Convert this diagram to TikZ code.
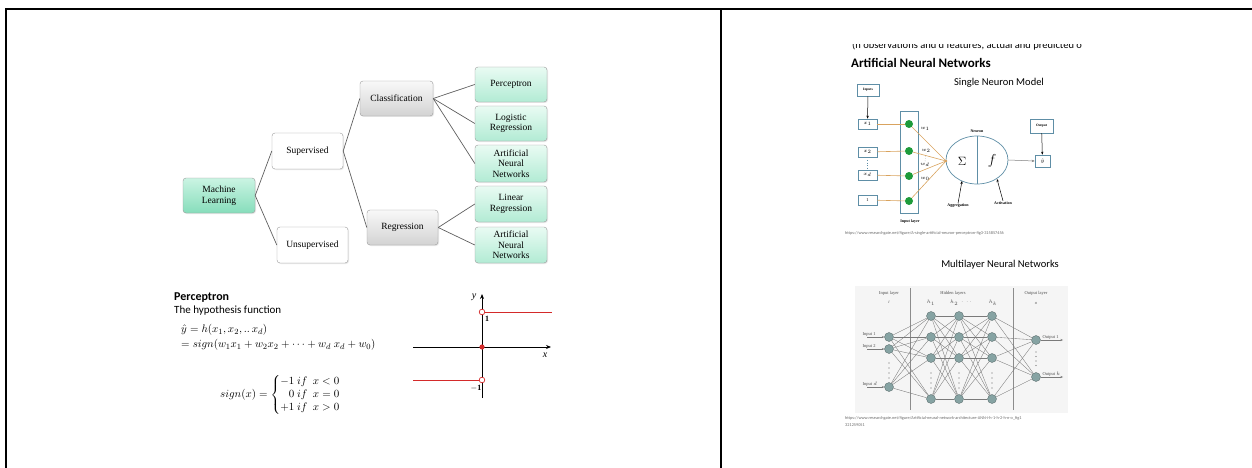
\documentclass[tikz,border=0pt]{standalone}
\usepackage{fontspec}
\usepackage{amsmath}
\setmainfont{Liberation Serif}
\newfontfamily\calib{Carlito}
\usetikzlibrary{arrows.meta,shapes.geometric,shadows}
\definecolor{gtop}{HTML}{E9FBF3}
\definecolor{gbot}{HTML}{B2EBD4}
\definecolor{mltop}{HTML}{CBF4E3}
\definecolor{mlbot}{HTML}{86DDBB}
\definecolor{ytop}{HTML}{F8F8F8}
\definecolor{ybot}{HTML}{D3D3D3}
\definecolor{bord}{HTML}{9A9A9A}
\definecolor{wire}{HTML}{5F5F5F}
\definecolor{nblue}{HTML}{5E8EA6}
\definecolor{ngreen}{HTML}{1E9B3A}
\definecolor{norange}{HTML}{D9A35E}
\definecolor{mlnode}{HTML}{86A3A3}
\definecolor{mlline}{HTML}{7A7A7A}
\definecolor{urlgray}{HTML}{6A6A6A}
\definecolor{sigred}{HTML}{D42A2A}
\tikzset{
  treebox/.style={draw=bord, rounded corners=3pt, minimum width=72pt, minimum height=35pt,
    align=center, inner sep=1pt, font=\fontsize{9.5}{10.5}\selectfont,
    drop shadow={opacity=0.18, shadow xshift=1pt, shadow yshift=-1pt}},
  leafbox/.style={treebox, top color=gtop, bottom color=gbot},
  mlbox/.style={treebox, top color=mltop, bottom color=mlbot},
  midbox/.style={treebox, top color=ytop, bottom color=ybot},
  plainbox/.style={treebox, fill=white},
  conn/.style={draw=wire, line width=0.7pt},
  tinylab/.style={font=\fontsize{4}{4.5}\selectfont\bfseries, inner sep=0.5pt},
  inbox/.style={draw=nblue, line width=0.6pt, fill=white, minimum width=19pt, minimum height=10pt, inner sep=0pt, font=\fontsize{4.5}{5}\selectfont},
  gdot/.style={circle, fill=ngreen, minimum size=8pt, inner sep=0pt},
  owire/.style={draw=norange, line width=0.6pt},
  sarrow/.style={-{Stealth[length=3pt,width=2.4pt]}, line width=0.5pt},
  mln/.style={circle, draw=mlnode!60!black, fill=mlnode, minimum size=9pt, inner sep=0pt, line width=0.3pt},
  mle/.style={draw=mlline, line width=0.35pt},
  mltxt/.style={font=\fontsize{4.5}{5}\selectfont, text=black!70, inner sep=0.5pt},
  urltxt/.style={font=\calib\fontsize{4.3}{5}\selectfont, text=urlgray, inner sep=0pt, anchor=west},
}
\begin{document}
\begin{tikzpicture}[x=1pt,y=-1pt]
\useasboundingbox (0,0) rectangle (1252,468);
% table frame
\draw[line width=1.6pt] (6,468) -- (6,9) -- (1252,9);
\draw[line width=1.6pt] (721,9) -- (721,468);

% ---------- tree ----------
\node[mlbox] (ml) at (219,195.5) {Machine\\Learning};
\node[plainbox, minimum width=71pt, minimum height=36pt] (sup) at (307.5,151) {Supervised};
\node[plainbox, minimum width=71pt, minimum height=36pt] (uns) at (312.5,245) {Unsupervised};
\node[midbox, minimum width=73pt] (cls) at (396.5,98.5) {Classification};
\node[midbox, minimum width=71pt] (reg) at (402.5,227.5) {Regression};
\node[leafbox] (per) at (511,84.5) {Perceptron};
\node[leafbox] (log) at (511,123.5) {Logistic\\Regression};
\node[leafbox, minimum height=37pt] (ann1) at (511,163.5) {Artificial\\Neural\\Networks};
\node[leafbox, minimum height=36pt] (lin) at (511,204) {Linear\\Regression};
\node[leafbox, minimum height=36pt] (ann2) at (511,245) {Artificial\\Neural\\Networks};
\draw[conn] (ml.east) -- (sup.west);
\draw[conn] (ml.east) -- (uns.west);
\draw[conn] (sup.east) -- (cls.west);
\draw[conn] (sup.east) -- (reg.west);
\draw[conn] (cls.east) -- (per.west);
\draw[conn] (cls.east) -- (log.west);
\draw[conn] (cls.east) -- (ann1.west);
\draw[conn] (reg.east) -- (lin.west);
\draw[conn] (reg.east) -- (ann2.west);

% ---------- perceptron text ----------
\node[anchor=west, inner sep=0pt, font=\calib\bfseries\fontsize{12}{14}\selectfont] (ptitle) at (174,297.5) {Perceptron};
\node[anchor=west, inner sep=0pt, font=\calib\fontsize{11}{13}\selectfont] (phyp) at (174,311) {The hypothesis function};
\node[anchor=west, inner sep=0pt, font=\fontsize{11}{13}\selectfont] (peq1) at (181,330) {$\hat{y} = h(x_1, x_2, ..\, x_d)$};
\node[anchor=west, inner sep=0pt, font=\fontsize{11}{13}\selectfont] (peq2) at (181,345) {$= sign(w_1x_1 + w_2x_2 + \cdots + w_d\;x_d + w_0)$};
\node[anchor=west, inner sep=0pt, font=\fontsize{11}{13}\selectfont] (pcases) at (220,395)
  {$sign(x) = \left\{\begin{array}{@{}r@{\ }l@{}} -1 & if\ \ x<0\\ 0 & if\ \ x=0\\ +1 & if\ \ x>0\end{array}\right.$};

% ---------- sign plot ----------
\coordinate (xa0) at (413,347); \coordinate (xa1) at (551,347);
\coordinate (ya0) at (482,398); \coordinate (ya1) at (482,294);
\draw[line width=0.8pt, -{Stealth[length=5pt,width=4pt]}] (xa0) -- (xa1);
\draw[line width=0.8pt, -{Stealth[length=5pt,width=4pt]}] (ya0) -- (ya1);
\draw[sigred, line width=0.9pt] (485,312) -- (552,312);
\draw[sigred, line width=0.9pt] (413,380) -- (479,380);
\draw[sigred, fill=white, line width=0.7pt] (482,312) circle (2.8);
\draw[sigred, fill=white, line width=0.7pt] (482,380) circle (2.8);
\fill[sigred] (482,347) circle (2.6);
\node[font=\itshape\fontsize{10}{12}\selectfont, inner sep=0pt] (ylab) at (474,297) {y};
\node[font=\itshape\fontsize{10}{12}\selectfont, inner sep=0pt] (xlab) at (545,355) {x};
\node[font=\bfseries\fontsize{8}{10}\selectfont, inner sep=0pt] (one) at (487,319) {1};
\node[font=\bfseries\fontsize{8}{10}\selectfont, inner sep=0pt] (mone) at (476,388) {$-$1};

% ---------- right panel texts ----------
\begin{scope}
\clip (840,44.5) rectangle (1126,60);
\node[anchor=base west, inner sep=0pt, font=\calib\fontsize{10.5}{12}\selectfont] (cut) at (852,48.5) {(n observations and d features, actual and predicted o};
\end{scope}
\node[anchor=west, inner sep=0pt, font=\calib\bfseries\fontsize{13}{15}\selectfont] (annt) at (851,63) {Artificial Neural Networks};
\node[inner sep=0pt, font=\calib\fontsize{10.5}{12}\selectfont] (snm) at (999,83) {Single Neuron Model};

% ---------- single neuron ----------
\node[inbox, minimum width=22pt, minimum height=12pt, font=\fontsize{3.5}{4}\selectfont\bfseries] (inputs) at (868,90) {Inputs};
\node[inbox] (x1) at (867.5,124) {$x_1$};
\node[inbox] (x2) at (867.5,152) {$x_2$};
\node[inbox] (xd) at (867.5,175) {$x_d$};
\node[inbox] (x0) at (867.5,200) {1};
\draw[sarrow] (inputs) -- (x1);
\draw[nblue, dotted, line width=0.6pt] (x2.south) -- (xd.north);
\node[draw=nblue, line width=0.7pt, minimum width=18pt, minimum height=102pt, inner sep=0pt] (layer) at (909,162) {};
\node[gdot] (n1) at (909,124) {};
\node[gdot] (n2) at (909,151) {};
\node[gdot] (n3) at (909,176) {};
\node[gdot] (n4) at (909,201) {};
\node[ellipse, draw=nblue, line width=0.7pt, minimum width=62pt, minimum height=48pt, inner sep=0pt] (neuron) at (977,160) {};
\draw[nblue, line width=0.7pt] (neuron.north) -- (neuron.south);
\coordinate (agg) at (946,161);
\draw[owire] (x1) -- (n1); \draw[owire] (x2) -- (n2); \draw[owire] (xd) -- (n3); \draw[owire] (x0) -- (n4);
\draw[owire] (n1) -- (agg); \draw[owire] (n2) -- (agg); \draw[owire] (n3) -- (agg); \draw[owire] (n4) -- (agg);
\fill[norange] (agg) circle (1.3);
\node[tinylab, font=\fontsize{4}{4.5}\selectfont] (w1) at (925,129) {$w_1$};
\node[tinylab, font=\fontsize{4}{4.5}\selectfont] (w2) at (926,151) {$w_2$};
\node[tinylab, font=\fontsize{4}{4.5}\selectfont] (wd) at (925,165) {$w_d$};
\node[tinylab, font=\fontsize{4}{4.5}\selectfont] (w0) at (925,179) {$w_0$};
\draw[black!60, dotted, line width=0.4pt] (w2.south) -- (wd.north);
\node[inner sep=0pt, font=\fontsize{13}{14}\selectfont] (sig) at (962,161) {$\Sigma$};
\node[inner sep=0pt, font=\fontsize{14}{15}\selectfont] (fact) at (992,161) {$f$};
\node[tinylab] (neulab) at (977,131) {Neuron};
\node[inbox, minimum width=15pt, minimum height=12pt] (yhat) at (1042.5,161) {$\hat{y}$};
\node[inbox, minimum width=23pt, minimum height=14pt, font=\fontsize{3.5}{4}\selectfont\bfseries] (outb) at (1041.5,126) {Output};
\draw[sarrow, draw=black!50] (neuron.east) -- (yhat.west);
\draw[sarrow] (outb) -- (yhat);
\node[tinylab] (agglab) at (958,206) {Aggregation};
\node[tinylab] (actlab) at (1003,203) {Activation};
\draw[sarrow] (agglab.north) -- (962,181);
\draw[sarrow] (actlab.north) -- (997,179);
\node[tinylab] (inl) at (910,222) {Input layer};
\node[urltxt] (url1) at (845,233) {https://www.researchgate.net/figure/A-single-artificial-neuron-perceptron-fig3-315857456};

% ---------- multilayer ----------
\node[inner sep=0pt, font=\calib\fontsize{10.5}{12}\selectfont] (mlt) at (1000,265) {Multilayer Neural Networks};
\fill[black!4] (855,286) rectangle (1068,413);
\draw[black!45, line width=0.4pt] (910,288) -- (910,410);
\draw[black!45, line width=0.4pt] (1013,288) -- (1013,410);
\node[mltxt] (lin1) at (889,293) {Input layer};
\node[mltxt, font=\itshape\fontsize{4.5}{5}\selectfont] (lin2) at (889,302) {i};
\node[mltxt] (lh1) at (953,293) {Hidden layers};
\node[mltxt] (lh2) at (931,303) {$h_1$};
\node[mltxt] (lh3) at (961,303) {$h_2\ \cdot\ \cdot\ \cdot$};
\node[mltxt] (lh4) at (993,303) {$h_k$};
\node[mltxt] (lo1) at (1036,293) {Output layer};
\node[mltxt, font=\itshape\fontsize{4.5}{5}\selectfont] (lo2) at (1036,303) {o};

\node[mln] (i1) at (889,337) {};
\node[mln] (i2) at (889,349) {};
\node[mln] (id) at (889,387) {};
\foreach \n/\x in {a/931,b/959,c/992}{
  \node[mln] (\n1) at (\x,316) {};
  \node[mln] (\n2) at (\x,337) {};
  \node[mln] (\n3) at (\x,358) {};
  \node[mln] (\n4) at (\x,399) {};
}
\node[mln] (o1) at (1036,340) {};
\node[mln] (ok) at (1036,377) {};
\foreach \s in {i1,i2,id}{\foreach \t in {a1,a2,a3,a4}{\draw[mle] (\s) -- (\t);}}
\foreach \s in {a1,a2,a3,a4}{\foreach \t in {b1,b2,b3,b4}{\draw[mle] (\s) -- (\t);}}
\foreach \s in {b1,b2,b3,b4}{\foreach \t in {c1,c2,c3,c4}{\draw[mle] (\s) -- (\t);}}
\foreach \s in {c1,c2,c3,c4}{\foreach \t in {o1,ok}{\draw[mle] (\s) -- (\t);}}
% vertical dots
\foreach \y in {363,368,373,378}{\fill[black!60] (889,\y) circle (0.6);}
\foreach \x in {931,959,992}{\foreach \y in {373,378,383,388}{\fill[black!60] (\x,\y) circle (0.6);}}
\foreach \y in {352,356.5,361,365.5}{\fill[black!60] (1036,\y) circle (0.6);}
% input labels
\coordinate (ia1) at (867,337); \coordinate (ia2) at (867,349); \coordinate (iad) at (867,387);
\draw[mle, -{Stealth[length=2.5pt,width=2pt]}, line width=0.4pt] (ia1) -- (i1);
\draw[mle, -{Stealth[length=2.5pt,width=2pt]}, line width=0.4pt] (ia2) -- (i2);
\draw[mle, -{Stealth[length=2.5pt,width=2pt]}, line width=0.4pt] (iad) -- (id);
\node[mltxt, anchor=south west] (il1) at (862,337) {Input 1};
\node[mltxt, anchor=south west] (il2) at (862,349) {Input 2};
\node[mltxt, anchor=south west] (ild) at (862,387) {Input $d$};
\coordinate (oa1) at (1063,340); \coordinate (oak) at (1063,377);
\draw[mle, -{Stealth[length=2.5pt,width=2pt]}, line width=0.4pt] (o1) -- (oa1);
\draw[mle, -{Stealth[length=2.5pt,width=2pt]}, line width=0.4pt] (ok) -- (oak);
\node[mltxt, anchor=south west] (ol1) at (1042,340) {Output 1};
\node[mltxt, anchor=south west] (olk) at (1042,377) {Output $k$};
\node[urltxt] (url2) at (845,418) {https://www.researchgate.net/figure/Artificial-neural-network-architecture-ANN-i-h-1-h-2-h-n-o\_fig1};
\node[urltxt] (url3) at (845,425) {321259051};
\end{tikzpicture}
\end{document}
